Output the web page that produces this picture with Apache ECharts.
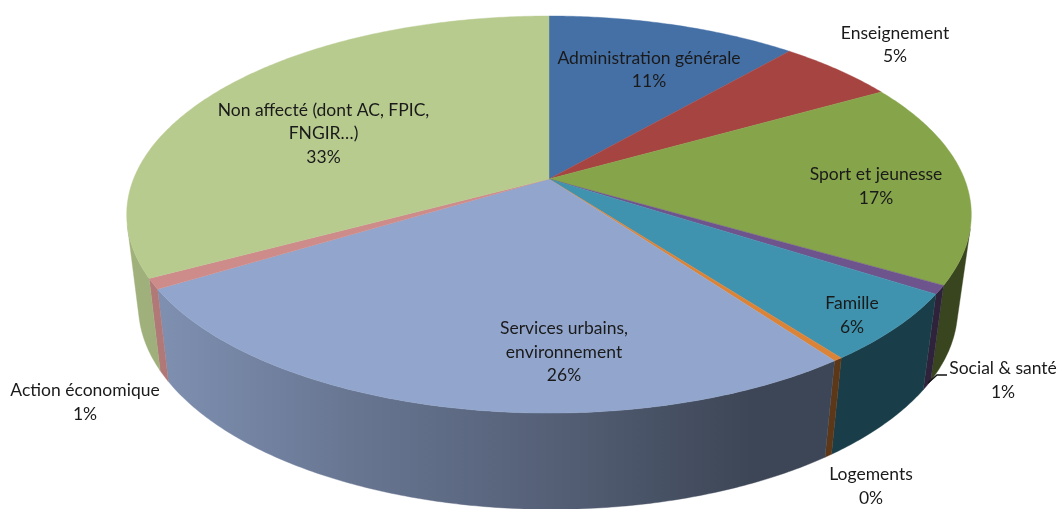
<!DOCTYPE html>
<html>
<head>
<meta charset="utf-8">
<style>html,body{margin:0;padding:0;background:#fff}#chart{width:1059px;height:509px}</style>
<script src="https://cdn.jsdelivr.net/npm/echarts@6/dist/echarts.min.js"></script>
</head>
<body>
<div id="chart"></div>
<script>
// Répartition par secteur, tracée en camembert 3D (ordre horaire depuis midi)
const categories = [
  'Administration générale', 'Enseignement', 'Sport et jeunesse', 'Social & santé',
  'Famille', 'Logements', 'Services urbains,\nenvironnement', 'Action économique',
  'Non affecté (dont AC, FPIC,\nFNGIR…)'
];
const shares = [11.4, 5.4, 16.6, 0.7, 5.6, 0.3, 26.3, 0.85, 32.85];
const topColors = ['#4570a6', '#a64442', '#86a44a', '#6e548d', '#3f93ae', '#db8438', '#92a6cd', '#cd8c8a', '#b8cb8f'];

// Emplacement du centre de chaque étiquette
const labelCenters = [
  [649, 70], [895, 45], [876, 186.5], [1003, 380.5], [852, 315.5],
  [871, 486.5], [564, 352], [85, 402.5], [323.5, 133.5]
];

// Projection perspective du disque supérieur
const apex = { x: 549, y: 179 };
const persp = { a: 415.5, b: 192.2, k: -0.179 };
const depth = { shrink: 0.97, shift: -1, drop: 92, slope: 0.018, tilt: 0.004 };

const total = shares.reduce((s, v) => s + v, 0);
const startAngle = i => shares.slice(0, i).reduce((s, v) => s + v, 0) / total * Math.PI * 2;

function topPoint(theta) {
  const u = Math.sin(theta), v = -Math.cos(theta);
  const w = 1 + persp.k * v;
  return [apex.x + persp.a * u / w, apex.y + persp.b * v / w];
}
function bottomPoint(theta) {
  const p = topPoint(theta);
  const dx = p[0] - apex.x, dy = p[1] - apex.y;
  return [apex.x + depth.shift + dx * depth.shrink, p[1] + depth.drop + depth.slope * dy + depth.tilt * dx];
}
function arc(i, project) {
  const a0 = startAngle(i), a1 = startAngle(i + 1);
  const n = Math.max(2, Math.ceil((a1 - a0) / 0.01));
  const pts = [];
  for (let j = 0; j <= n; j++) pts.push(project(a0 + (a1 - a0) * j / n));
  return pts;
}
// Contour de la partie tournée vers l'observateur (le reste passe sous le disque)
function frontWall(i) {
  const top = arc(i, topPoint), bottom = arc(i, bottomPoint);
  const keep = [];
  for (let j = 0; j < top.length - 1; j++) {
    const tx = top[j + 1][0] - top[j][0], ty = top[j + 1][1] - top[j][1];
    const dx = bottom[j][0] - top[j][0], dy = bottom[j][1] - top[j][1];
    if (tx * dy - ty * dx < 0) keep.push(j);
  }
  if (!keep.length) return null;
  const first = keep[0], last = keep[keep.length - 1] + 1;
  return top.slice(first, last + 1).concat(bottom.slice(first, last + 1).reverse());
}
function scaleColor(hex, f) {
  const n = parseInt(hex.slice(1), 16);
  const c = [n >> 16, (n >> 8) & 255, n & 255].map(x => Math.round(x * f));
  return 'rgb(' + c.join(',') + ')';
}
// L'éclairage latéral assombrit la tranche de gauche à droite
function wallFill(hex) {
  return new echarts.graphic.LinearGradient(130, 0, 970, 0, [
    { offset: 0, color: scaleColor(hex, 0.87) },
    { offset: 0.04, color: scaleColor(hex, 0.86) },
    { offset: 0.262, color: scaleColor(hex, 0.71) },
    { offset: 0.5, color: scaleColor(hex, 0.58) },
    { offset: 0.74, color: scaleColor(hex, 0.42) },
    { offset: 1, color: scaleColor(hex, 0.42) }
  ], true);
}

const rows = shares.map((v, i) => [i, v]);

const option = {
  animation: false,
  backgroundColor: '#fff',
  series: [
    {
      type: 'custom', coordinateSystem: 'none', z: 1, silent: true,
      data: rows,
      renderItem(params) {
        const i = params.dataIndex;
        const pts = frontWall(i);
        if (!pts) return null;
        const fill = wallFill(topColors[i]);
        return {
          type: 'polygon',
          shape: { points: pts },
          style: { fill, stroke: fill, lineWidth: 0.4 }
        };
      }
    },
    {
      type: 'custom', coordinateSystem: 'none', z: 2, silent: true,
      data: rows,
      renderItem(params) {
        const i = params.dataIndex;
        const pts = [[apex.x, apex.y]].concat(arc(i, topPoint));
        return {
          type: 'polygon',
          shape: { points: pts },
          style: { fill: topColors[i], stroke: topColors[i], lineWidth: 0.4 }
        };
      }
    },
    {
      type: 'custom', coordinateSystem: 'none', z: 3, silent: true,
      data: rows,
      renderItem(params) {
        const i = params.dataIndex;
        const pct = Math.round(shares[i] / total * 100) + '%';
        return {
          type: 'text',
          style: {
            text: categories[i] + '\n' + pct,
            x: labelCenters[i][0], y: labelCenters[i][1],
            align: 'center', verticalAlign: 'middle',
            font: '17.5px Lato', lineHeight: 23.6, fill: '#1a1a1a'
          }
        };
      }
    }
  ],
  graphic: [{
    type: 'polyline', z: 4, silent: true,
    shape: { points: [[928, 383], [937, 375], [947, 375]] },
    style: { stroke: '#111', lineWidth: 1.4, fill: null }
  }]
};
echarts.init(document.getElementById('chart')).setOption(option);
</script>
</body>
</html>
